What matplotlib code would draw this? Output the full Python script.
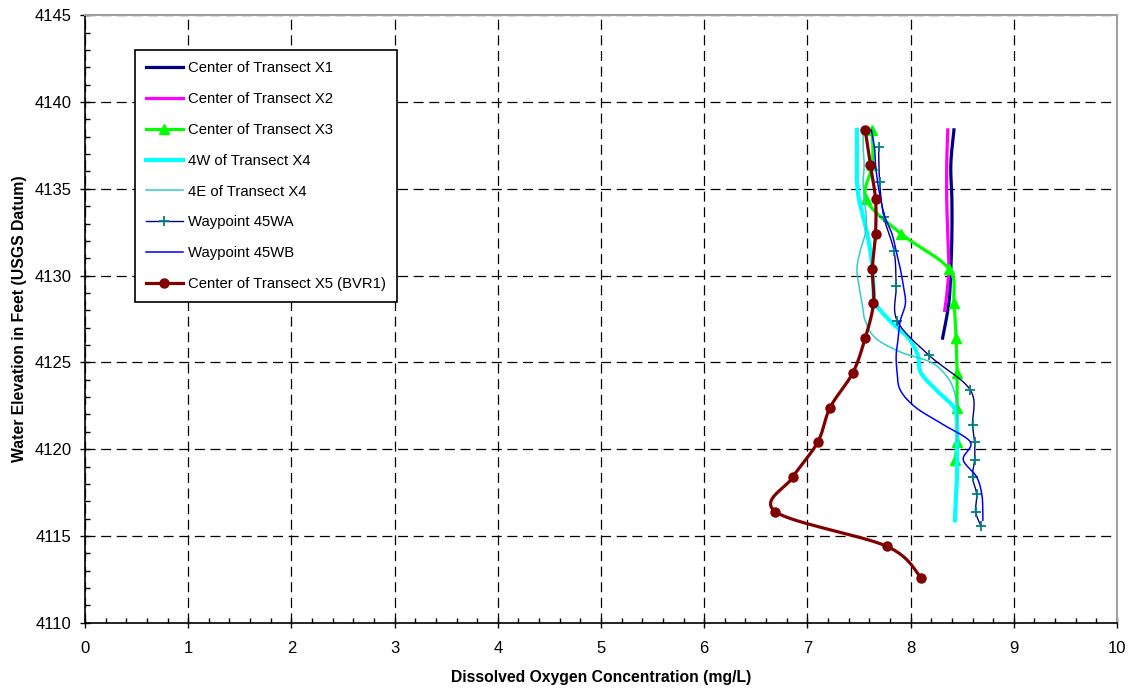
import numpy as np
import matplotlib.pyplot as plt
from matplotlib.ticker import MultipleLocator

plt.rcParams['font.family'] = ['Liberation Sans', 'DejaVu Sans']

# Center of Transect X1
x1_do = [8.42, 8.39, 8.40, 8.40, 8.39, 8.37, 8.31]
x1_el = [4138.4, 4136.4, 4134.4, 4132.4, 4130.4, 4128.4, 4126.4]

# Center of Transect X2
x2_do = [8.36, 8.35, 8.35, 8.36, 8.37, 8.35, 8.33]
x2_el = [4138.4, 4136.4, 4134.4, 4132.4, 4130.4, 4128.9, 4128.0]

# Center of Transect X3
x3_do = [7.63, 7.63, 7.57, 7.91, 8.37, 8.42, 8.44, 8.45, 8.45, 8.45, 8.43]
x3_el = [4138.4, 4136.4, 4134.4, 4132.4, 4130.4, 4128.4, 4126.4, 4124.4, 4122.4, 4120.4, 4119.4]

# 4W of Transect X4
x4w_do = [7.48, 7.48, 7.48, 7.48, 7.50, 7.54, 7.58, 7.61, 7.63, 7.64, 7.66, 7.80, 7.98,
          8.07, 8.10, 8.25, 8.42, 8.45, 8.45, 8.45, 8.45, 8.44, 8.43]
x4w_el = [4138.4, 4137.4, 4136.4, 4135.4, 4134.4, 4133.4, 4132.4, 4131.4, 4130.4, 4129.4,
          4128.4, 4127.4, 4126.4, 4125.4, 4124.4, 4123.4, 4122.4, 4121.4, 4120.4, 4119.4,
          4118.4, 4117.4, 4115.9]

# 4E of Transect X4
x4e_do = [7.54, 7.54, 7.55, 7.54, 7.55, 7.57, 7.56, 7.51, 7.48, 7.50, 7.53, 7.56, 7.66,
          7.90, 8.20, 8.35, 8.42, 8.45, 8.45, 8.45]
x4e_el = [4138.4, 4137.4, 4136.4, 4135.4, 4134.4, 4133.4, 4132.4, 4131.4, 4130.4, 4129.4,
          4128.4, 4127.4, 4126.4, 4125.6, 4125.0, 4124.2, 4123.4, 4122.4, 4121.4, 4120.4]

# Waypoint 45WA
wa_do = [7.69, 7.70, 7.74, 7.84, 7.86, 7.87, 8.18, 8.58, 8.60, 8.62, 8.62, 8.60, 8.64, 8.63, 8.68]
wa_el = [4137.4, 4135.4, 4133.4, 4131.4, 4129.4, 4127.4, 4125.4, 4123.4, 4121.4, 4120.4,
         4119.4, 4118.4, 4117.4, 4116.4, 4115.6]

# Waypoint 45WB
wb_do = [7.62, 7.65, 7.66, 7.68, 7.71, 7.75, 7.82, 7.86, 7.90, 7.93, 7.95, 7.90, 7.88,
         7.86, 7.87, 7.90, 8.05, 8.32, 8.58, 8.51, 8.64, 8.69, 8.70, 8.70]
wb_el = [4138.4, 4137.4, 4136.4, 4135.4, 4134.4, 4133.4, 4132.4, 4131.4, 4130.4, 4129.4,
         4128.4, 4127.4, 4126.4, 4125.4, 4124.4, 4123.4, 4122.4, 4121.4, 4120.4, 4119.4,
         4118.4, 4117.4, 4116.4, 4115.9]

# Center of Transect X5 (BVR1)
x5_do = [7.56, 7.61, 7.66, 7.66, 7.63, 7.64, 7.56, 7.44, 7.22, 7.10, 6.86, 6.69, 7.77, 8.10]
x5_el = [4138.4, 4136.4, 4134.4, 4132.4, 4130.4, 4128.4, 4126.4, 4124.4, 4122.4, 4120.4,
         4118.4, 4116.4, 4114.4, 4112.6]

fig = plt.figure(figsize=(11.35, 6.88), dpi=100)
ax = fig.add_axes([85 / 1135, 65.3 / 688, 1032 / 1135, 607.4 / 688])
ax.set_xlim(0, 10)
ax.set_ylim(4110, 4145)
fig.canvas.draw()

N = 16


def smooth(xs, ys):
    # excel-like smoothed line, done in screen space
    p = ax.transData.transform(np.column_stack([xs, ys]))
    out = [p[0]]
    n = len(p)
    for i in range(n - 1):
        p0 = p[i - 1] if i > 0 else p[i]
        p1, p2 = p[i], p[i + 1]
        p3 = p[i + 2] if i + 2 < n else p[i + 1]
        c1 = p1 + (p2 - p0) / 6
        c2 = p2 - (p3 - p1) / 6
        t = np.linspace(0, 1, N + 1)[1:, None]
        seg = (1 - t) ** 3 * p1 + 3 * (1 - t) ** 2 * t * c1 + 3 * (1 - t) * t ** 2 * c2 + t ** 3 * p2
        out.extend(seg)
    d = ax.transData.inverted().transform(np.array(out))
    marks = list(range(0, len(out), N))
    return d[:, 0], d[:, 1], marks


def draw(xs, ys, label, **kw):
    sx, sy, marks = smooth(xs, ys)
    ax.plot(sx, sy, label=label, markevery=marks, solid_joinstyle='round', **kw)


draw(x1_do, x1_el, 'Center of Transect X1', color='#000080', lw=2.3)
draw(x2_do, x2_el, 'Center of Transect X2', color='#ff00ff', lw=2.3)
draw(x3_do, x3_el, 'Center of Transect X3', color='#00ff00', lw=2.3,
     marker='^', ms=6.5)
draw(x4w_do, x4w_el, '4W of Transect X4', color='#00ffff', lw=3)
draw(x4e_do, x4e_el, '4E of Transect X4', color='#33cccc', lw=1.1)
draw(wa_do, wa_el, 'Waypoint 45WA', color='#000080', lw=1.0,
     marker='+', ms=7, mec='#008080', mew=1.3)
draw(wb_do, wb_el, 'Waypoint 45WB', color='#0000ff', lw=1.1)
draw(x5_do, x5_el, 'Center of Transect X5 (BVR1)', color='#800000', lw=2.3,
     marker='o', ms=6.5)

ax.xaxis.set_major_locator(MultipleLocator(1))
ax.xaxis.set_minor_locator(MultipleLocator(0.2))
ax.yaxis.set_major_locator(MultipleLocator(5))
ax.yaxis.set_minor_locator(MultipleLocator(1))
ax.tick_params(which='major', direction='inout', length=7, width=1, labelsize=12)
ax.tick_params(axis='x', which='major', pad=10)
ax.tick_params(axis='y', which='major', pad=6)
ax.tick_params(which='minor', direction='in', length=3.5, width=1)
ax.grid(True, which='major', color='black', ls=(0, (8, 4.5)), lw=0.9)

for s in ['top', 'right']:
    ax.spines[s].set_color('#a0a0a0')
    ax.spines[s].set_linewidth(1.5)
for s in ['left', 'bottom']:
    ax.spines[s].set_linewidth(1.2)

ax.set_xlabel('Dissolved Oxygen Concentration (mg/L)', fontsize=11.3, fontweight='bold')
ax.set_ylabel('Water Elevation in Feet (USGS Datum)', fontsize=11.3, fontweight='bold')
ax.xaxis.set_label_coords(0.5, -0.078)
ax.yaxis.set_label_coords(-0.056, 0.5)

leg = ax.legend(loc='upper left', bbox_to_anchor=(50 / 1032, 1 - 35 / 607.4),
                fontsize=10.7, frameon=True, fancybox=False, edgecolor='black',
                framealpha=1, borderpad=0.75, labelspacing=1.13, handlelength=2.45,
                handletextpad=0.35, borderaxespad=0)
leg.get_frame().set_linewidth(1.2)

fig.savefig('out.png', dpi=100)
